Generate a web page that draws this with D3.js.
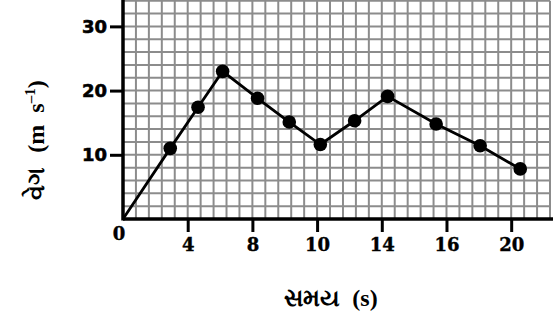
<!DOCTYPE html>
<html>
<head>
<meta charset="utf-8">
<script src="https://cdn.jsdelivr.net/npm/d3@7"></script>
<style>
  html, body { margin: 0; padding: 0; background: #fff; }
  svg { display: block; }
  text { white-space: pre; }
</style>
</head>
<body>
<svg id="chart" width="558" height="321"></svg>
<script>
// ---- data (x in major-division units of the printed time axis) ----
const timeVals  = [0, 0.73, 1.16, 1.54, 2.08, 2.57, 3.05, 3.58, 4.09, 4.84, 5.52, 6.14];
const speedVals = [0, 11.0, 17.4, 23.0, 18.8, 15.1, 11.6, 15.3, 19.1, 14.8, 11.4, 7.8];
const hasMarker = [false, true, true, true, true, true, true, true, true, true, true, true];
const xTickPos    = [1, 2, 3, 4, 5, 6];
const xTickLabels = ["4", "8", "10", "14", "16", "20"];
const yTickVals   = [10, 20, 30];
const xTitle = "સમય";
const yTitle = "વેગ";

const svg = d3.select("#chart");
const x = d3.scaleLinear().domain([0, 6.6]).range([123, 550]);
const y = d3.scaleLinear().domain([0, 34]).range([219, 0.7]);

// grid
const grid = svg.append("g");
const vLines = d3.range(0, 6.6001, 0.2);
const hLines = d3.range(0, 34.001, 2);
grid.selectAll("line.v").data(vLines).enter().append("line")
  .attr("x1", d => x(d)).attr("x2", d => x(d))
  .attr("y1", y(0)).attr("y2", y(34))
  .attr("stroke", "#8c8c8c").attr("stroke-width", 2);
grid.selectAll("line.h").data(hLines).enter().append("line")
  .attr("x1", x(0)).attr("x2", x(6.6))
  .attr("y1", d => y(d)).attr("y2", d => y(d))
  .attr("stroke", "#8c8c8c").attr("stroke-width", 2);

// axes
const yAxis = d3.axisLeft(y).tickValues(yTickVals).tickSize(13).tickSizeOuter(0).tickPadding(3)
  .tickFormat(d3.format("d"));
const gy = svg.append("g").attr("transform", `translate(${x(0)},0)`).call(yAxis);
gy.select(".domain").remove();
gy.selectAll(".tick line").attr("stroke", "#000").attr("stroke-width", 3);
gy.selectAll(".tick text").attr("font-family", "'DejaVu Sans', sans-serif")
  .attr("font-weight", "bold").attr("font-size", 18).attr("fill", "#000")
  .attr("stroke", "#000").attr("stroke-width", 0.6);

const xAxis = d3.axisBottom(x).tickValues(xTickPos).tickSize(13).tickSizeOuter(0).tickPadding(6)
  .tickFormat((d, i) => xTickLabels[i]);
const gx = svg.append("g").attr("transform", `translate(0,${y(0)})`).call(xAxis);
gx.select(".domain").remove();
gx.selectAll(".tick line").attr("stroke", "#000").attr("stroke-width", 3);
gx.selectAll(".tick text").attr("font-family", "'DejaVu Serif', serif")
  .attr("font-weight", "bold").attr("font-size", 18).attr("fill", "#000")
  .attr("stroke", "#000").attr("stroke-width", 0.4);

// axis lines
svg.append("line").attr("x1", x(0)).attr("x2", 553).attr("y1", y(0)).attr("y2", y(0))
  .attr("stroke", "#000").attr("stroke-width", 3.5);
svg.append("line").attr("x1", x(0)).attr("x2", x(0)).attr("y1", y(0) + 1.5).attr("y2", 0)
  .attr("stroke", "#000").attr("stroke-width", 3.5);

// origin label
svg.append("text").attr("x", x(0) - 4).attr("y", y(0) + 21).attr("text-anchor", "middle")
  .attr("font-family", "'DejaVu Serif', serif").attr("font-weight", "bold").attr("font-size", 18)
  .attr("stroke", "#000").attr("stroke-width", 0.4)
  .text("0");

// line + markers
const pts = timeVals.map((t, i) => ({t, v: speedVals[i], m: hasMarker[i]}));
svg.append("path").datum(pts)
  .attr("d", d3.line().x(d => x(d.t)).y(d => y(d.v)))
  .attr("fill", "none").attr("stroke", "#000").attr("stroke-width", 2.8);
svg.selectAll("circle.pt").data(pts.filter(d => d.m)).enter().append("circle")
  .attr("cx", d => x(d.t)).attr("cy", d => y(d.v)).attr("r", 6.8).attr("fill", "#000");

// axis titles
const xt = svg.append("text").attr("x", 331).attr("y", 306).attr("text-anchor", "middle")
  .attr("font-family", "'Liberation Serif', 'DejaVu Serif', serif").attr("font-weight", "bold")
  .attr("font-size", 24).attr("fill", "#000");
xt.append("tspan").text(xTitle);
xt.append("tspan").attr("dx", 12).text("(s)");

const yt = svg.append("text").attr("transform", "translate(44,140) rotate(-90)")
  .attr("text-anchor", "middle")
  .attr("font-family", "'Liberation Serif', 'DejaVu Serif', serif").attr("font-weight", "bold")
  .attr("font-size", 24).attr("fill", "#000");
yt.append("tspan").text(yTitle);
yt.append("tspan").attr("dx", 14).text("(m  s");
yt.append("tspan").attr("dy", -9).attr("font-size", 15).text("–1");
yt.append("tspan").attr("dy", 9).text(")");
</script>
</body>
</html>
